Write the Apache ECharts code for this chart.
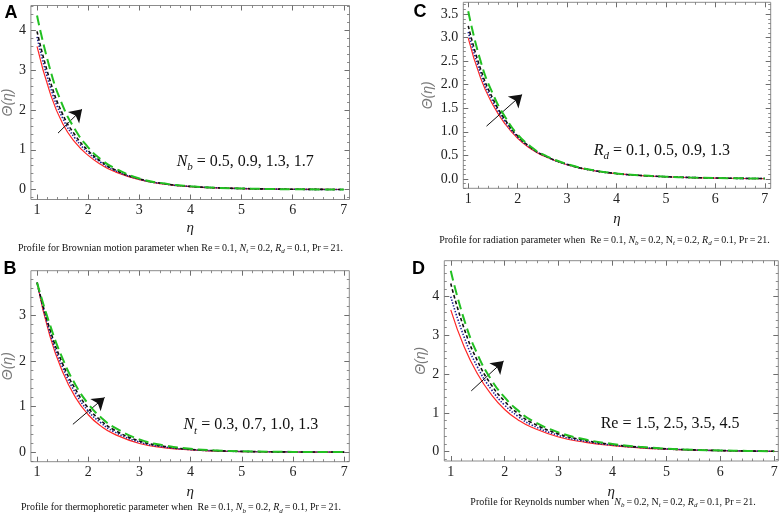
<!DOCTYPE html>
<html><head><meta charset="utf-8">
<script src="https://cdn.jsdelivr.net/npm/echarts@6/dist/echarts.min.js"></script>
<style>html,body{margin:0;padding:0;background:#fff}#c{width:782px;height:521px}</style>
</head><body><div id="c"></div>
<script>
// ---- data ----
const eta = [1, 1.25, 1.5, 1.75, 2, 2.25, 2.5, 3, 3.5, 4, 4.5, 5, 5.5, 6, 6.5, 7];

// Panel A: Brownian motion parameter Nb = 0.5, 0.9, 1.3, 1.7
const aRed   = [3.60, 2.45, 1.66, 1.18, 0.86, 0.63, 0.46, 0.25, 0.135, 0.075, 0.042, 0.024, 0.014, 0.008, 0.004, 0.002];
const aBlue  = [3.84, 2.62, 1.80, 1.28, 0.93, 0.68, 0.49, 0.26, 0.14, 0.078, 0.044, 0.025, 0.014, 0.008, 0.004, 0.002];
const aBlack = [3.98, 2.76, 1.90, 1.36, 0.98, 0.71, 0.51, 0.27, 0.145, 0.08, 0.045, 0.026, 0.015, 0.008, 0.004, 0.002];
const aGreen = [4.38, 3.05, 2.12, 1.50, 1.06, 0.76, 0.55, 0.28, 0.15, 0.082, 0.046, 0.026, 0.015, 0.008, 0.004, 0.002];

// Panel B: thermophoretic parameter Nt = 0.3, 0.7, 1.0, 1.3
const bRed   = [3.72, 2.55, 1.76, 1.20, 0.82, 0.57, 0.40, 0.19, 0.095, 0.048, 0.024, 0.012, 0.006, 0.003, 0.0015, 0.001];
const bBlue  = [3.72, 2.63, 1.86, 1.30, 0.90, 0.64, 0.45, 0.22, 0.11, 0.055, 0.028, 0.014, 0.007, 0.004, 0.002, 0.001];
const bBlack = [3.72, 2.70, 1.94, 1.38, 0.97, 0.69, 0.49, 0.245, 0.125, 0.062, 0.032, 0.016, 0.008, 0.004, 0.002, 0.001];
const bGreen = [3.72, 2.80, 2.05, 1.48, 1.06, 0.76, 0.55, 0.28, 0.145, 0.073, 0.037, 0.019, 0.01, 0.005, 0.0025, 0.001];

// Panel C: radiation parameter Rd = 0.1, 0.5, 0.9, 1.3
const cRed   = [2.99, 2.14, 1.57, 1.16, 0.86, 0.65, 0.50, 0.30, 0.18, 0.11, 0.07, 0.045, 0.028, 0.018, 0.011, 0.007];
const cBlue  = [3.12, 2.24, 1.64, 1.21, 0.89, 0.67, 0.51, 0.305, 0.183, 0.112, 0.071, 0.046, 0.029, 0.018, 0.011, 0.007];
const cBlack = [3.25, 2.33, 1.70, 1.25, 0.91, 0.68, 0.515, 0.31, 0.186, 0.114, 0.072, 0.046, 0.029, 0.018, 0.011, 0.007];
const cGreen = [3.56, 2.50, 1.80, 1.31, 0.94, 0.70, 0.525, 0.315, 0.19, 0.116, 0.073, 0.047, 0.03, 0.019, 0.012, 0.007];

// Panel D: Reynolds number Re = 1.5, 2.5, 3.5, 4.5
const dRed   = [3.66, 2.70, 2.00, 1.48, 1.09, 0.82, 0.63, 0.38, 0.24, 0.155, 0.10, 0.065, 0.042, 0.027, 0.017, 0.01];
const dBlue  = [4.00, 2.95, 2.17, 1.61, 1.20, 0.91, 0.69, 0.42, 0.265, 0.17, 0.11, 0.07, 0.045, 0.028, 0.018, 0.01];
const dBlack = [4.34, 3.17, 2.33, 1.73, 1.30, 0.98, 0.75, 0.46, 0.29, 0.185, 0.118, 0.075, 0.048, 0.03, 0.019, 0.011];
const dGreen = [4.67, 3.40, 2.50, 1.86, 1.40, 1.06, 0.81, 0.50, 0.315, 0.20, 0.127, 0.08, 0.05, 0.032, 0.02, 0.012];

// tick labels
const xTicks  = [1, 2, 3, 4, 5, 6, 7];
const yTicksA = [0, 1, 2, 3, 4];
const yTicksB = [0, 1, 2, 3];
const yTicksC = [0, 0.5, 1, 1.5, 2, 2.5, 3, 3.5];
const yTicksD = [0, 1, 2, 3, 4];

// annotation texts
const noteA = ['N', 'b', ' = 0.5, 0.9, 1.3, 1.7'];
const noteB = ['N', 't', ' = 0.3, 0.7, 1.0, 1.3'];
const noteC = ['R', 'd', ' = 0.1, 0.5, 0.9, 1.3'];
const noteD = ['', '', 'Re = 1.5, 2.5, 3.5, 4.5'];

const capA = 'Profile for Brownian motion parameter when Re\u2009=\u20090.1, {i|N}{s|t}\u2009=\u20090.2, {i|R}{s|d}\u2009=\u20090.1, Pr\u2009=\u200921.';
const capB = 'Profile for thermophoretic parameter when  Re\u2009=\u20090.1, {i|N}{s|b}\u2009=\u20090.2, {i|R}{s|d}\u2009=\u20090.1, Pr\u2009=\u200921.';
const capC = 'Profile for radiation parameter when  Re\u2009=\u20090.1, {i|N}{s|b}\u2009=\u20090.2, N{s|t}\u2009=\u20090.2, {i|R}{s|d}\u2009=\u20090.1, Pr\u2009=\u200921.';
const capD = 'Profile for Reynolds number when  {i|N}{s|b}\u2009=\u20090.2, N{s|t}\u2009=\u20090.2, {i|R}{s|d}\u2009=\u20090.1, Pr\u2009=\u200921.';

// ---- layout ----
const SERIF = "'Liberation Serif', 'Times New Roman', serif";
const SANS = "'Liberation Sans', Arial, sans-serif";

const panels = [
  { letter:'A', letterAt:[11,13.5], grid:{left:29, top:5.5, width:320.5, height:194},
    xr:[0.88, 7.11], yr:[-0.25, 4.63], yt:yTicksA, yMinorStep:0.2, dec:0,
    lines:[aRed, aBlue, aBlack, aGreen], arrow:[[1.41,1.42],[1.88,2.02]],
    noteAt:[3.73, 0.70], note:noteA, yGap:13, xGap:21, cap:capA, capAt:[180.5, 248] },
  { letter:'B', letterAt:[10,269], grid:{left:30, top:270.7, width:319.3, height:191},
    xr:[0.88, 7.1], yr:[-0.21, 3.98], yt:yTicksB, yMinorStep:0.2, dec:0,
    lines:[bRed, bBlue, bBlack, bGreen], arrow:[[1.70,0.61],[2.32,1.20]],
    noteAt:[3.86, 0.59], note:noteB, yGap:12, xGap:23, cap:capB, capAt:[181, 507.5] },
  { letter:'C', letterAt:[420,12], grid:{left:463.3, top:2.3, width:307.4, height:186},
    xr:[0.9, 7.12], yr:[-0.2, 3.75], yt:yTicksC, yMinorStep:0.1, dec:1,
    lines:[cRed, cBlue, cBlack, cGreen], arrow:[[1.37,1.12],[2.09,1.79]],
    noteAt:[3.54, 0.59], note:noteC, yGap:28, xGap:23, cap:capC, capAt:[604.5, 240] },
  { letter:'D', letterAt:[418.5,269], grid:{left:444.3, top:260.7, width:334, height:200.3},
    xr:[0.88, 7.075], yr:[-0.24, 4.93], yt:yTicksD, yMinorStep:0.2, dec:0,
    lines:[dRed, dBlue, dBlack, dGreen], arrow:[[1.38,1.57],[1.98,2.34]],
    noteAt:[3.78, 0.73], note:noteD, yGap:15, xGap:24, cap:capD, capAt:[613, 502] }
];

const lineStyles = [
  { color:'#ff2626', type:'solid', width:1.2 },
  { color:'#1e1e96', type:[1.4, 1.6], width:1.6 },
  { color:'#111111', type:[3.5, 2.5], width:1.6 },
  { color:'#22c022', type:[10, 5], width:2 }
];

function steps(a, b, s) { const r = []; for (let v = a; v <= b + 1e-9; v += s) r.push(+v.toFixed(4)); return r; }
function minorOf(major, lo, hi, step) {
  return steps(Math.ceil(lo / step) * step, hi, step).filter(v => !major.some(m => Math.abs(m - v) < 1e-6));
}

const grids = [], xAxes = [], yAxes = [], series = [], graphics = [];
const tickColor = '#6e6e6e';
const labelStyle = { fontFamily: SERIF, fontSize: 14, color: '#222' };

panels.forEach((p, i) => {
  grids.push(Object.assign({ show:true, borderColor:'#8c8c8c', borderWidth:1, backgroundColor:'transparent' }, p.grid));
  const xMinor = minorOf(xTicks, p.xr[0], p.xr[1], 0.2);
  const yMinor = minorOf(p.yt, p.yr[0], p.yr[1], p.yMinorStep);
  const xb = { type:'value', gridIndex:i, min:p.xr[0], max:p.xr[1], splitLine:{show:false}, axisLine:{show:false, onZero:false} };
  const yb = { type:'value', gridIndex:i, min:p.yr[0], max:p.yr[1], splitLine:{show:false}, axisLine:{show:false, onZero:false} };
  const major = vals => ({ show:true, inside:true, length:5, lineStyle:{color:tickColor, width:1}, customValues:vals });
  const minor = vals => ({ show:true, inside:true, length:2.5, lineStyle:{color:tickColor, width:0.8}, customValues:vals });
  xAxes.push(Object.assign({}, xb, { position:'bottom', axisTick:major(xTicks),
    axisLabel:Object.assign({ customValues:xTicks, margin:4 }, labelStyle),
    name:'\u03b7', nameLocation:'middle', nameGap:p.xGap,
    nameTextStyle:{ fontFamily:SERIF, fontStyle:'italic', fontSize:15, color:'#222' } }));
  xAxes.push(Object.assign({}, xb, { position:'bottom', axisTick:minor(xMinor), axisLabel:{show:false} }));
  xAxes.push(Object.assign({}, xb, { position:'top', axisTick:major(xTicks), axisLabel:{show:false} }));
  xAxes.push(Object.assign({}, xb, { position:'top', axisTick:minor(xMinor), axisLabel:{show:false} }));
  yAxes.push(Object.assign({}, yb, { position:'left', axisTick:major(p.yt),
    axisLabel:Object.assign({ customValues:p.yt, margin:5, formatter: v => Number(v).toFixed(p.dec) }, labelStyle),
    name:'\u0398(\u03b7)', nameLocation:'middle', nameGap:p.yGap, nameRotate:90,
    nameTextStyle:{ fontFamily:SANS, fontStyle:'italic', fontSize:14, color:'#7a7a7a' } }));
  yAxes.push(Object.assign({}, yb, { position:'left', axisTick:minor(yMinor), axisLabel:{show:false} }));
  yAxes.push(Object.assign({}, yb, { position:'right', axisTick:major(p.yt), axisLabel:{show:false} }));
  yAxes.push(Object.assign({}, yb, { position:'right', axisTick:minor(yMinor), axisLabel:{show:false} }));

  p.lines.forEach((arr, k) => {
    const s = {
      type:'line', xAxisIndex:4*i, yAxisIndex:4*i, silent:true, animation:false,
      data: eta.map((x, j) => [x, arr[j]]), smooth:0.5,
      symbol:'none', showSymbol:false, lineStyle: lineStyles[k], z: 2 + k
    };
    if (k === 0) {
      s.markLine = { silent:true, animation:false, symbol:['none','arrow'], symbolSize:12,
        lineStyle:{ color:'#111', width:1, type:'solid' }, label:{show:false},
        emphasis:{disabled:true},
        data:[[{ coord:p.arrow[0] }, { coord:p.arrow[1] }]] };
      const n = p.note;
      const fmt = (n[0] ? '{i|' + n[0] + '}{s|' + n[1] + '}' : '') + '{n|' + n[2] + '}';
      s.markPoint = { silent:true, animation:false, symbol:'circle', symbolSize:0,
        data:[{ coord:p.noteAt }],
        label:{ show:true, position:'right', distance:0, formatter: fmt,
          rich:{
            i:{ fontFamily:SERIF, fontStyle:'italic', fontSize:16, color:'#111', lineHeight:22 },
            s:{ fontFamily:SERIF, fontStyle:'italic', fontSize:11, color:'#111', lineHeight:22, verticalAlign:'bottom' },
            n:{ fontFamily:SERIF, fontSize:16, color:'#111', lineHeight:22 }
          } } };
    }
    series.push(s);
  });

  graphics.push({ type:'text', x:p.letterAt[0], y:p.letterAt[1], silent:true,
    style:{ text:p.letter, font:'bold 18px ' + SANS, fill:'#000', align:'center', verticalAlign:'middle' } });
  graphics.push({ type:'text', x:p.capAt[0], y:p.capAt[1], silent:true,
    style:{ text:p.cap, fontFamily:SERIF, fontSize:10, fill:'#111', align:'center', verticalAlign:'middle',
      rich:{
        i:{ fontFamily:SERIF, fontStyle:'italic', fontSize:10, fill:'#111', lineHeight:14 },
        s:{ fontFamily:SERIF, fontStyle:'italic', fontSize:7, fill:'#111', lineHeight:14, verticalAlign:'bottom' }
      } } });
});

const chart = echarts.init(document.getElementById('c'), null, { renderer:'canvas' });
chart.setOption({
  animation:false,
  backgroundColor:'#ffffff',
  grid: grids, xAxis: xAxes, yAxis: yAxes, series: series, graphic: graphics
});
</script></body></html>
